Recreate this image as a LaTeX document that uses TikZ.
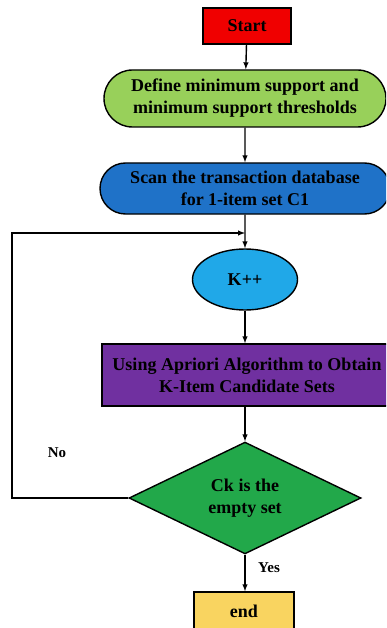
\documentclass[tikz,border=0pt]{standalone}
\usepackage{fontspec}
\setmainfont{Liberation Serif}
\usetikzlibrary{shapes, arrows}

\definecolor{startred}{HTML}{F00000}
\definecolor{defgreen}{HTML}{98D05A}
\definecolor{scanblue}{HTML}{1F72C8}
\definecolor{kblue}{HTML}{20A8E8}
\definecolor{aprpurple}{HTML}{7030A0}
\definecolor{decgreen}{HTML}{22A84A}
\definecolor{endgold}{HTML}{F9D460}

\begin{document}
\begin{tikzpicture}[x=1pt, y=-1pt, line width=1.4pt, >=latex,
        base/.style = {draw, align=center, inner sep=0pt,
                font=\fontsize{18}{22}\selectfont\bfseries},
        box/.style = {base, rectangle},
        pill/.style = {base, rounded rectangle},
        oval/.style = {base, ellipse},
        test/.style = {base, diamond}]
                \clip (0, 0) rectangle (386, 628);

                \node[box, fill=startred, minimum width=88pt, minimum height=36pt] at (247, 26) (start) {Start};
                \node[pill, fill=defgreen, minimum width=282pt, minimum height=57pt] at (245, 98.5) (define) {Define minimum support and\\minimum support thresholds};
                \node[pill, fill=scanblue, minimum width=290pt, minimum height=51pt] at (245, 188.5) (scan) {Scan the transaction database\\for 1-item set C1};
                \node[oval, fill=kblue, minimum width=105pt, minimum height=61pt] at (245, 279.5) (kpp) {K++};
                \node[box, fill=aprpurple, minimum width=290pt, minimum height=62pt] at (247, 375) (apriori) {Using Apriori Algorithm to Obtain\\K-Item Candidate Sets};
                \node[test, fill=decgreen, minimum width=232pt, minimum height=99pt] at (245, 498) (dec) {Ck is the\\empty set};
                \node[box, fill=endgold, minimum width=100pt, minimum height=38pt] at (244, 611) (end) {end};

                \coordinate (join) at (245, 233);
                \coordinate (back) at (12, 233);

                \node[font=\fontsize{15}{18}\selectfont\bfseries] at (57, 453) (no) {No};
                \node[font=\fontsize{15}{18}\selectfont\bfseries] at (269, 568) (yes) {Yes};

                \draw [->] (start) -- (define);
                \draw [->] (define) -- (scan);
                \draw [->] (scan) -- (kpp);
                \draw [->] (kpp) -- (kpp |- apriori.north);
                \draw [->] (apriori.south -| dec.north) -- (dec);
                \draw [->] (dec) -- (dec |- end.north);
                \draw [->] (dec.west) -| (back) -- (join);
            \end{tikzpicture}
\end{document}
